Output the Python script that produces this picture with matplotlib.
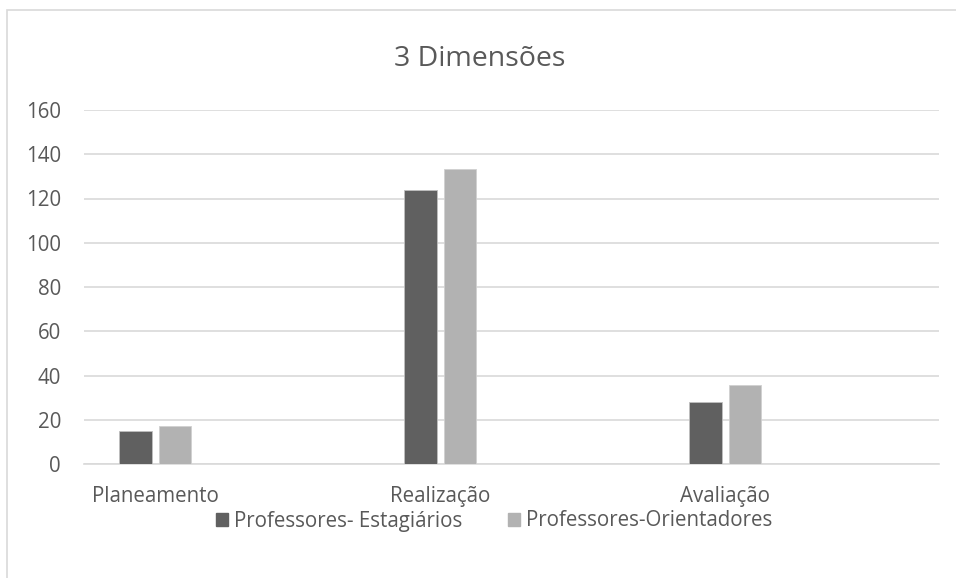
import matplotlib.pyplot as plt
import numpy as np
from matplotlib.patches import Rectangle

plt.rcParams['font.family'] = ['Open Sans', 'DejaVu Sans']

categories = ["Planeamento", "Realização", "Avaliação"]
series_names = ["Professores- Estagiários", "Professores-Orientadores"]
estagiarios = [15, 124, 28]
orientadores = [17, 133.5, 35.5]
colors = ["#606060", "#b2b2b2"]
text_color = "#595959"

fig = plt.figure(figsize=(9.56, 5.78), dpi=100)
ax = fig.add_axes([84 / 956, 1 - 464 / 578, (939 - 84) / 956, (464 - 110) / 578])

x = np.arange(len(categories))
w = 0.113
off = 0.069
ax.bar(x - off, estagiarios, w, color=colors[0], edgecolor="#bfbfbf", linewidth=0.6, zorder=3)
ax.bar(x + off, orientadores, w, color=colors[1], edgecolor="#d0d0d0", linewidth=0.6, zorder=3)

ax.set_xlim(-0.25, 2.75)
ax.set_ylim(0, 160)
ax.set_yticks(range(0, 161, 20))
ax.set_xticks(x)
ax.set_xticklabels(categories)
ax.grid(axis="y", color="#d9d9d9", linewidth=1.2, zorder=0)
for s in ["top", "right", "left"]:
    ax.spines[s].set_visible(False)
ax.spines["bottom"].set_color("#d9d9d9")
ax.spines["bottom"].set_linewidth(1.2)
ax.tick_params(axis="both", length=0, labelsize=14.8, colors=text_color)
ax.tick_params(axis="y", pad=16.5)
ax.tick_params(axis="x", pad=16)

fig.text(0.502, 1 - 59 / 578, "3 Dimensões", ha="center", va="center", fontsize=20.5, color=text_color)

# legend
handles = [Rectangle((0, 0), 1, 1, color=c) for c in colors]
fig.legend(handles, series_names, loc="center", bbox_to_anchor=(0.517, 1 - 521 / 578),
           ncol=2, frameon=False, fontsize=14.8, labelcolor=text_color,
           handlelength=0.6, handleheight=0.6, handletextpad=0.3, columnspacing=2.2)

# outer chart border
fig.patches.append(Rectangle((7 / 956, -0.1), 1.2, 1 - 10 / 578 + 0.1, transform=fig.transFigure,
                             fill=False, edgecolor="#d9d9d9", linewidth=1.2))

fig.savefig("out.png", dpi=100)
